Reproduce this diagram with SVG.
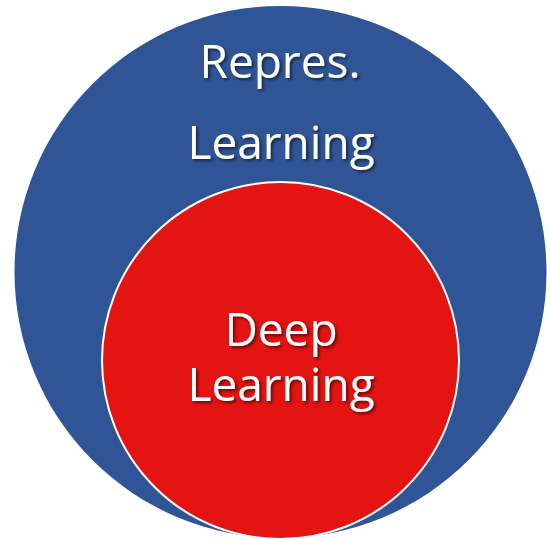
<svg xmlns="http://www.w3.org/2000/svg" width="547" height="540" viewBox="0 0 547 540">
<style>
.lbl{font-family:"Open Sans","Liberation Sans",sans-serif;font-size:46px;fill:#fff;text-anchor:middle;filter:url(#sh)}
</style>
<defs>
<filter id="sh" x="-10%" y="-20%" width="130%" height="150%">
<feDropShadow dx="2" dy="2" stdDeviation="1.5" flood-color="#000" flood-opacity="0.55"/>
</filter>
</defs>
<rect width="547" height="540" fill="#fff"/>
<g id="repres">
<circle cx="280.5" cy="272" r="266" fill="#2F5597"/>
<text class="lbl" x="280" y="78">Repres.</text>
<text class="lbl" x="281" y="159">Learning</text>
</g>
<g id="deep">
<circle cx="280.5" cy="360.5" r="178.5" fill="#E31412" stroke="#fff" stroke-width="2"/>
<text class="lbl" x="281" y="346">Deep</text>
<text class="lbl" x="281" y="401">Learning</text>
</g>
<g id="connectors"/>
</svg>
